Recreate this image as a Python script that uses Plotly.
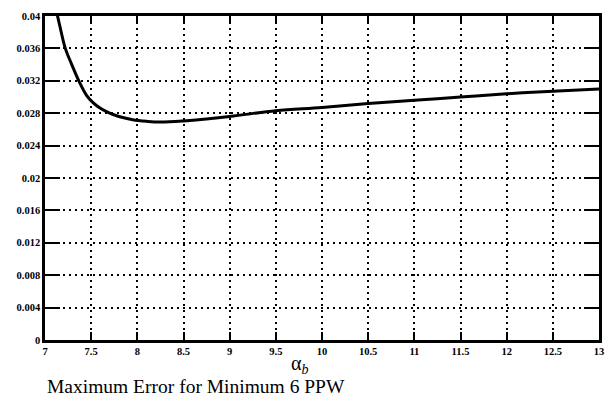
import plotly.graph_objects as go

alpha_b = [7.12, 7.16, 7.22, 7.29, 7.37, 7.45, 7.52, 7.60, 7.70, 7.80, 7.95, 8.1, 8.25, 8.5, 9.0, 9.5, 10.0, 10.5, 11.0, 11.5, 12.0, 12.5, 13.0]
max_err = [0.0408, 0.0388, 0.0360, 0.0340, 0.0319, 0.0302, 0.0293, 0.0286, 0.0280, 0.0276, 0.0272, 0.0270, 0.0269, 0.02705, 0.0276, 0.0283, 0.0287, 0.0292, 0.0296, 0.0300, 0.0304, 0.0307, 0.0310]

x_ticks = [7, 7.5, 8, 8.5, 9, 9.5, 10, 10.5, 11, 11.5, 12, 12.5, 13]
x_labels = ["7", "7.5", "8", "8.5", "9", "9.5", "10", "10.5", "11", "11.5", "12", "12.5", "13"]
y_ticks = [0, 0.004, 0.008, 0.012, 0.016, 0.02, 0.024, 0.028, 0.032, 0.036, 0.04]
y_labels = ["0", "0.004", "0.008", "0.012", "0.016", "0.02", "0.024", "0.028", "0.032", "0.036", "0.04"]

SERIF = "Liberation Serif"

fig = go.Figure()
fig.add_trace(go.Scatter(x=alpha_b, y=max_err, mode="lines",
                         line=dict(color="black", width=3, shape="spline", smoothing=1),
                         showlegend=False))

tickfont = dict(family=SERIF, size=10.5, color="black", weight="bold")
fig.update_xaxes(range=[7, 13], tickvals=x_ticks, ticktext=x_labels, tickfont=tickfont,
                 showgrid=True, gridcolor="black", griddash="2px,4px", gridwidth=1.5,
                 showline=True, linecolor="black", linewidth=2.5, mirror="ticks",
                 ticks="inside", ticklen=8, tickwidth=2, tickcolor="black", zeroline=False)
fig.update_yaxes(range=[0, 0.04], tickvals=y_ticks, ticktext=y_labels, tickfont=tickfont,
                 showgrid=True, gridcolor="black", griddash="2px,4px", gridwidth=1.5,
                 showline=True, linecolor="black", linewidth=2.5, mirror="ticks",
                 ticks="inside", ticklen=15, tickwidth=2, tickcolor="black", zeroline=False)

fig.add_annotation(text="α<sub><i>b</i></sub>", xref="paper", yref="paper", x=(300 - 45) / 555, y=-0.075,
                   showarrow=False, xanchor="center", yanchor="middle",
                   font=dict(family=SERIF, size=20, color="black"))
fig.add_annotation(text="Maximum Error for Minimum 6 PPW", xref="paper", yref="paper", x=0, y=-0.145,
                   showarrow=False, xanchor="left", yanchor="middle",
                   font=dict(family=SERIF, size=19.5, color="black"))

fig.update_layout(width=615, height=397, margin=dict(l=45, r=15, t=11, b=57),
                  plot_bgcolor="white", paper_bgcolor="white")
fig.write_html("out.html")
